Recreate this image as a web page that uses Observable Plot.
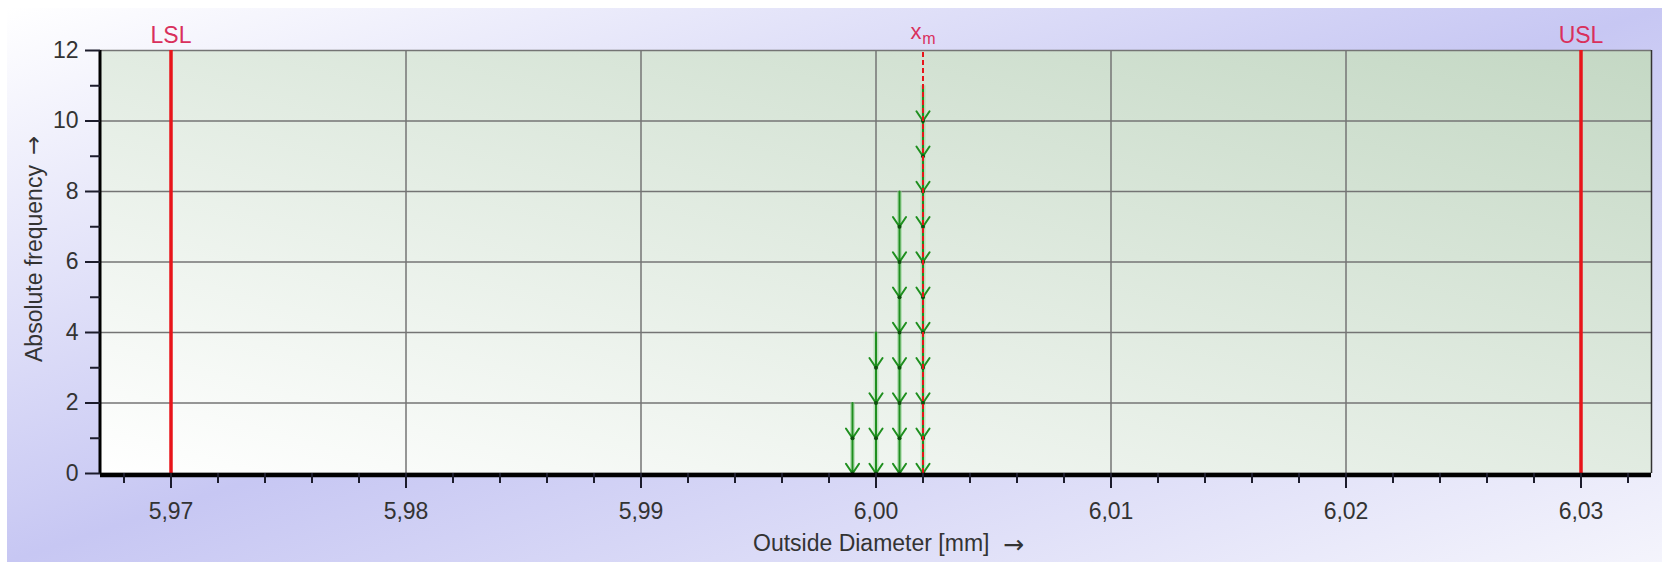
<!DOCTYPE html>
<html>
<head>
<meta charset="utf-8">
<script src="https://cdn.jsdelivr.net/npm/d3@7"></script>
<script src="https://cdn.jsdelivr.net/npm/@observablehq/plot@0.6"></script>
<style>
  html, body { margin: 0; padding: 0; background: #ffffff; }
</style>
</head>
<body>
<div id="chart"></div>
<script>
// ---- data ----
const binCenters = [5.999, 6.000, 6.001, 6.002];
const binCounts = [2, 4, 8, 11];
const specLimits = [{name: "LSL", value: 5.97}, {name: "USL", value: 6.03}];
const meanValue = 6.002;
const xMajorTicks = [5.97, 5.98, 5.99, 6.00, 6.01, 6.02, 6.03];
const xMinorTicks = d3.range(5.968, 6.0331, 0.002).map(v => +v.toFixed(3)).filter(v => !xMajorTicks.some(t => Math.abs(t - v) < 1e-9));
const yMajorTicks = [0, 2, 4, 6, 8, 10, 12];
const yMinorTicks = [1, 3, 5, 7, 9, 11];
const xDomain = [5.967, 6.033];
const yDomain = [0, 12];
const xTitle = "Outside Diameter [mm]";
const yTitle = "Absolute frequency";
const arrowGlyph = "→";

// one arrow per counted value (from k down to k-1)
const arrows = [];
binCenters.forEach((x, i) => {
  for (let k = 1; k <= binCounts[i]; k++) arrows.push({x, y1: k, y2: k - 1});
});
const stacks = binCenters.map((x, i) => ({x, n: binCounts[i]}));

const fmt = d => d.toFixed(2).replace(".", ",");
const red = "#e8141a";
const labelRed = "#d9305c";
const textColor = "#333333";
const arrowFont = "'DejaVu Sans', sans-serif";

const defs = () => {
  const d = d3.create("svg:defs");
  const g = d.append("linearGradient").attr("id", "plotgrad")
    .attr("x1", 0).attr("y1", 1).attr("x2", 1).attr("y2", 0);
  g.append("stop").attr("offset", "0%").attr("stop-color", "#ffffff");
  g.append("stop").attr("offset", "100%").attr("stop-color", "#c4d8c4");
  return d.node();
};

const chart = Plot.plot({
  width: 1662,
  height: 562,
  marginLeft: 100,
  marginRight: 11,
  marginTop: 50,
  marginBottom: 89,
  style: {fontFamily: "'Liberation Sans', Arial, sans-serif", fontSize: "23px", color: textColor, overflow: "visible"},
  x: {domain: xDomain, axis: null},
  y: {domain: yDomain, axis: null},
  marks: [
    defs,
    Plot.frame({fill: "url(#plotgrad)", stroke: null}),
    Plot.gridX(xMajorTicks, {stroke: "#747474", strokeOpacity: 1, strokeWidth: 1.5}),
    Plot.gridY(yMajorTicks, {stroke: "#747474", strokeOpacity: 1, strokeWidth: 1.5}),
    Plot.ruleX([xDomain[1]], {stroke: "#333", strokeWidth: 1.5}),
    // glow under stems
    Plot.ruleX(stacks, {x: "x", y1: 0, y2: "n", stroke: "#8fd08f", strokeWidth: 5, strokeOpacity: 0.5}),
    Plot.arrow(arrows, {x1: "x", x2: "x", y1: "y1", y2: "y2", stroke: "#1f8f1f", strokeWidth: 2, headAngle: 68, headLength: 9}),
    Plot.dot(arrows, {x: "x", y: "y2", r: 2, fill: "#0d4f0d"}),
    // spec limits
    Plot.ruleX(specLimits, {x: "value", y1: yDomain[0], y2: yDomain[1], stroke: red, strokeWidth: 3.5}),
    Plot.text(specLimits, {x: "value", y: yDomain[1], text: "name", fill: labelRed, fontSize: 23, dy: -15, lineAnchor: "middle"}),
    // mean
    Plot.ruleX([meanValue], {y1: yDomain[0], y2: yDomain[1], stroke: red, strokeWidth: 2, strokeDasharray: "5,3"}),
    Plot.text([meanValue], {x: d => d, y: yDomain[1], text: () => "x", fill: labelRed, fontSize: 22, dx: -7, dy: -19, lineAnchor: "middle"}),
    Plot.text([meanValue], {x: d => d, y: yDomain[1], text: () => "m", fill: labelRed, fontSize: 16, dx: 6, dy: -12, lineAnchor: "middle"}),
    // axis lines
    Plot.ruleX([xDomain[0]], {y1: yDomain[0], y2: yDomain[1], stroke: "#000", strokeWidth: 3, dx: -0.5}),
    Plot.ruleY([0], {stroke: "#000", strokeWidth: 4.5, dy: 1.5}),
    // ticks
    Plot.axisX({ticks: xMajorTicks, tickFormat: fmt, tickSize: 15, tickPadding: 14, fontSize: 23, stroke: "#1c1c2c", strokeWidth: 2, fill: textColor, label: null}),
    Plot.axisX({ticks: xMinorTicks, tickFormat: null, text: null, tickSize: 10, stroke: "#1c1c2c", strokeWidth: 2, label: null}),
    Plot.axisY({ticks: yMajorTicks, tickSize: 15, tickPadding: 7, fontSize: 23, stroke: "#1c1c2c", strokeWidth: 2, fill: textColor, label: null}),
    Plot.axisY({ticks: yMinorTicks, text: null, tickSize: 10, stroke: "#1c1c2c", strokeWidth: 2, label: null}),
    // axis titles
    Plot.text([xTitle], {frameAnchor: "bottom", text: d => d, textAnchor: "start", dx: -123, dy: 70, lineAnchor: "middle", fontSize: 23, fill: textColor}),
    Plot.text([arrowGlyph], {frameAnchor: "bottom", text: d => d, textAnchor: "start", dx: 127, dy: 71, lineAnchor: "middle", fontSize: 25, fontFamily: arrowFont, fill: textColor}),
    Plot.text([yTitle], {frameAnchor: "left", text: d => d, rotate: -90, textAnchor: "start", dx: -66, dy: 100, lineAnchor: "middle", fontSize: 23, fill: textColor}),
    Plot.text([arrowGlyph], {frameAnchor: "left", text: d => d, rotate: -90, textAnchor: "start", dx: -67, dy: -107, lineAnchor: "middle", fontSize: 23, fontFamily: arrowFont, fill: textColor})
  ]
});
chart.style.background = "linear-gradient(to bottom right, #ffffff 0%, #c7c7f3 50%, #f4f4fc 100%) 7px 8px / 1655px 554px no-repeat, #ffffff";
chart.style.display = "block";
document.getElementById("chart").appendChild(chart);
</script>
</body>
</html>
